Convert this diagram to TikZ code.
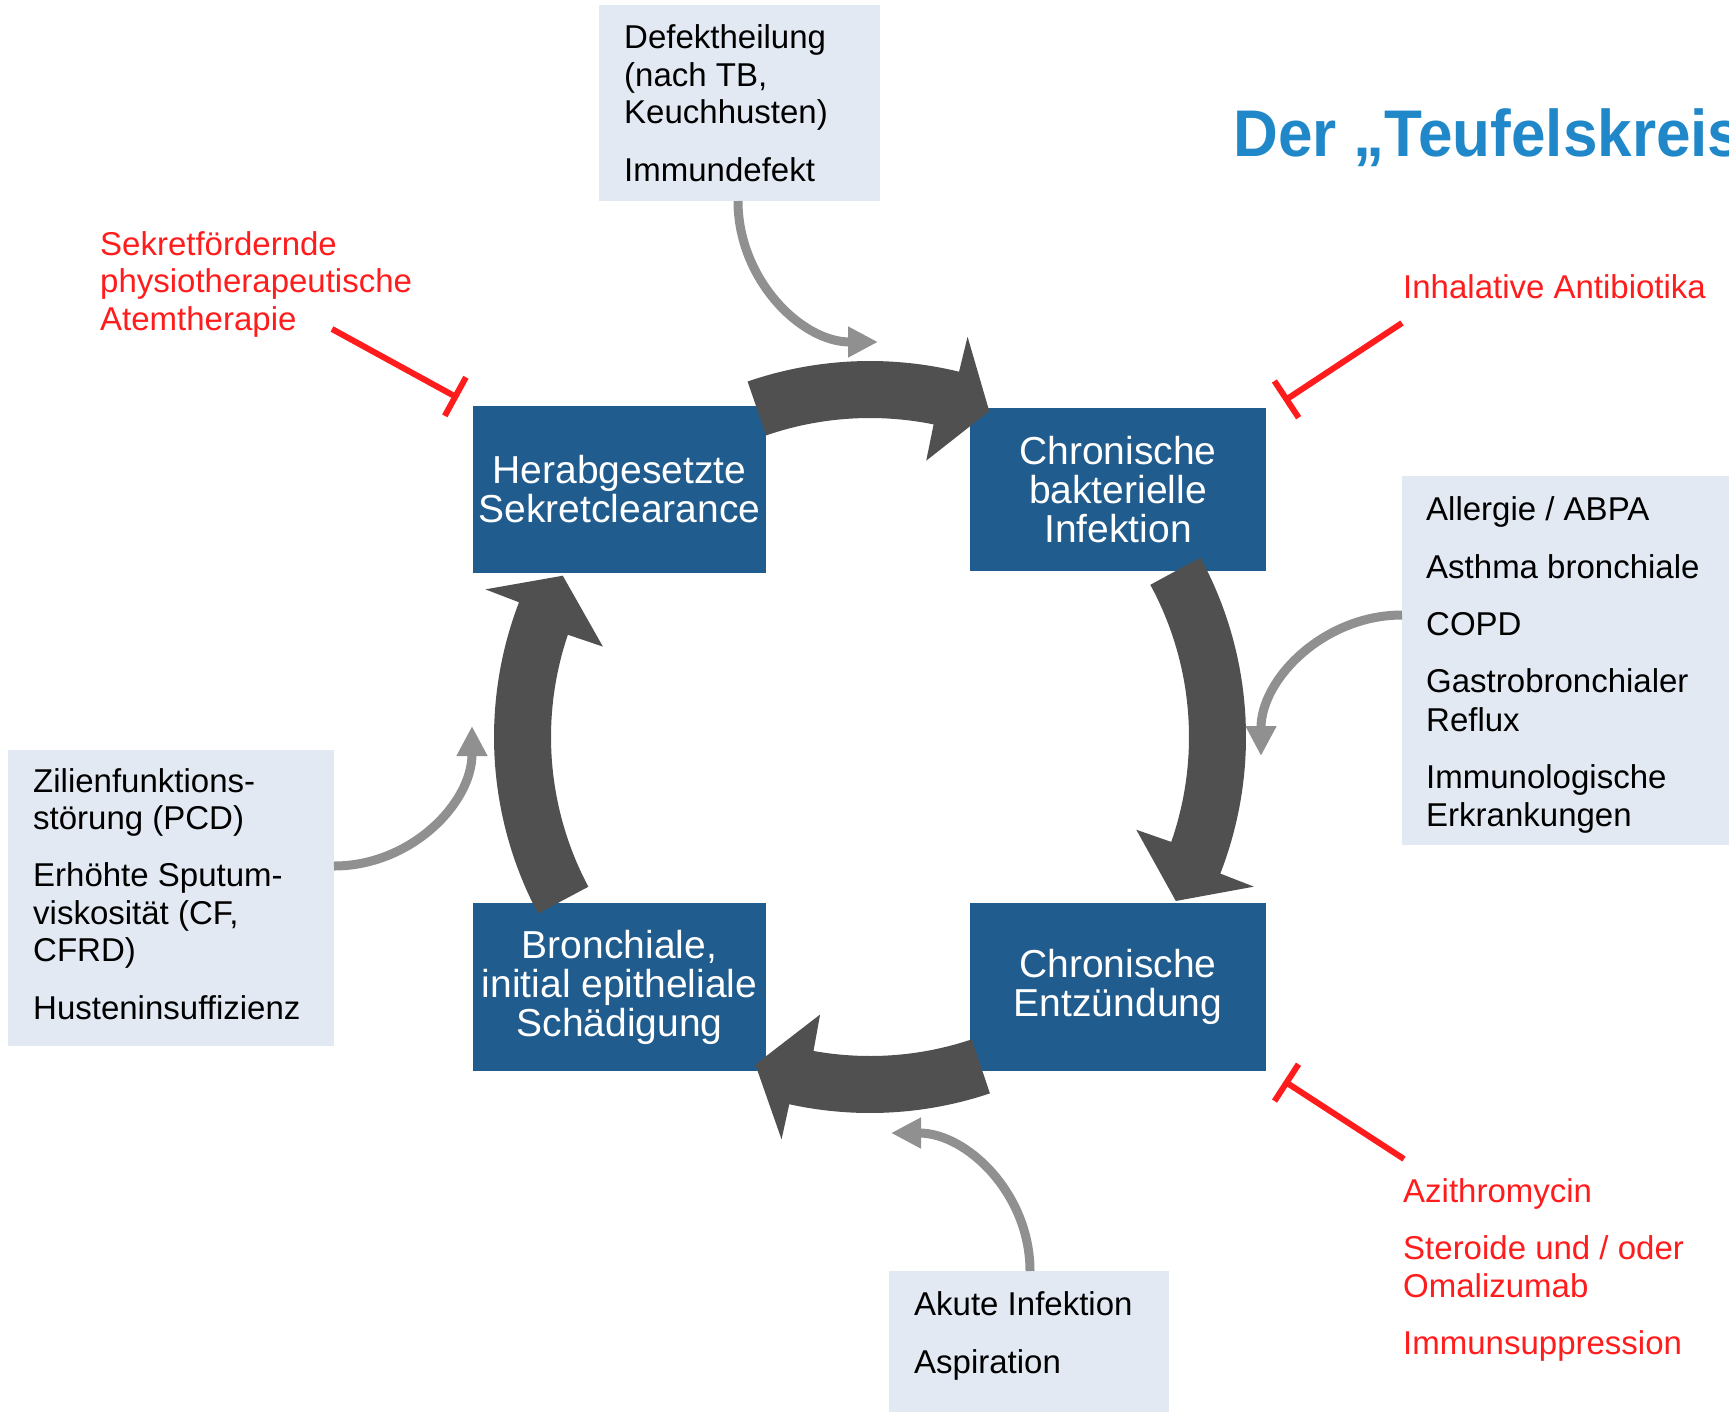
\documentclass[tikz,border=0pt]{standalone}
\usepackage{fontspec}
\setmainfont{Liberation Sans}
\usetikzlibrary{arrows.meta}
\definecolor{boxblue}{RGB}{33,92,142}
\definecolor{boxgrey}{RGB}{226,233,242}
\definecolor{arrdark}{RGB}{80,80,80}
\definecolor{arrgrey}{RGB}{144,144,144}
\definecolor{inhred}{RGB}{255,28,28}
\definecolor{titleblue}{RGB}{32,136,200}
\newcommand\cyclearrow[5]{%
  \fill[bigarr] plot[domain=#1:#2, samples=40] ({870+376*cos(\x)},{737+376*sin(\x)})
    -- ({870+412*cos(#2)},{737+412*sin(#2)})
    -- ({870+347*cos(#4)},{737+347*sin(#4)})
    -- ({870+282*cos(#3)},{737+282*sin(#3)})
    -- plot[domain=#3:#1, samples=40] ({870+319*cos(\x)},{737+319*sin(\x)}) -- cycle;}
\begin{document}
\begin{tikzpicture}[x=1pt,y=-1pt,
  bluebox/.style={fill=boxblue, text=white, inner sep=0pt, align=center,
    font=\fontsize{39}{39}\selectfont},
  greybox/.style={fill=boxgrey, inner sep=0pt, anchor=north west},
  txt/.style={anchor=base west, inner sep=0pt, font=\fontsize{33}{37.5}\selectfont, text=black},
  redtxt/.style={txt, text=inhred},
  feed/.style={draw=arrgrey, line width=9pt, -{Triangle[length=30pt,width=29pt]}},
  inhib/.style={draw=inhred, line width=6pt, -{Bar[width=44pt]}},
  bigarr/.style={fill=arrdark}
]
\useasboundingbox (0,0) rectangle (1729,1411);
\clip (0,0) rectangle (1729,1411);

% title
\node[anchor=base west, inner sep=0pt, text=titleblue, font=\fontsize{66}{66}\selectfont\bfseries] (title) at (1233,156) {\scalebox{0.94}[1]{Der „Teufelskreis}};

% grey boxes
\node[greybox, minimum width=281pt, minimum height=196pt] (gtop) at (599,5) {};
\node[greybox, minimum width=330pt, minimum height=369pt] (gright) at (1402,476) {};
\node[greybox, minimum width=326pt, minimum height=296pt] (gleft) at (8,750) {};
\node[greybox, minimum width=280pt, minimum height=145pt] (gbot) at (889,1271) {};

% grey box texts
\node[txt] (t1) at (624,48) {Defektheilung};
\node[txt] (t2) at (624,86) {(nach TB,};
\node[txt] (t3) at (624,123) {Keuchhusten)};
\node[txt] (t4) at (624,181) {Immundefekt};

\node[txt] (r1) at (1426,520) {Allergie / ABPA};
\node[txt] (r2) at (1426,578) {Asthma bronchiale};
\node[txt] (r3) at (1426,635) {COPD};
\node[txt] (r4) at (1426,692) {Gastrobronchialer};
\node[txt] (r5) at (1426,731) {Reflux};
\node[txt] (r6) at (1426,788) {Immunologische};
\node[txt] (r7) at (1426,826) {Erkrankungen};

\node[txt] (l1) at (33,792) {Zilienfunktions-};
\node[txt] (l2) at (33,829) {störung (PCD)};
\node[txt] (l3) at (33,886) {Erhöhte Sputum-};
\node[txt] (l4) at (33,924) {viskosität (CF,};
\node[txt] (l5) at (33,961) {CFRD)};
\node[txt] (l6) at (33,1019) {Husteninsuffizienz};

\node[txt] (b1) at (914,1315) {Akute Infektion};
\node[txt] (b2) at (914,1373) {Aspiration};

% red texts
\node[redtxt] (s1) at (100,255) {Sekretfördernde};
\node[redtxt] (s2) at (100,292) {physiotherapeutische};
\node[redtxt] (s3) at (100,330) {Atemtherapie};
\node[redtxt] (ia) at (1403,298) {Inhalative Antibiotika};
\node[redtxt] (az) at (1403,1202) {Azithromycin};
\node[redtxt] (st1) at (1403,1259) {Steroide und / oder};
\node[redtxt] (st2) at (1403,1297) {Omalizumab};
\node[redtxt] (im) at (1403,1354) {Immunsuppression};

% blue boxes
\node[bluebox, minimum width=293pt, minimum height=167pt] (herab) at (619.5,489.5) {Herabgesetzte\\Sekretclearance};
\node[bluebox, minimum width=296pt, minimum height=163pt] (bakt) at (1118,489.5) {Chronische\\bakterielle\\Infektion};
\node[bluebox, minimum width=293pt, minimum height=168pt] (bronch) at (619.5,987) {Bronchiale,\\initial epitheliale\\Schädigung};
\node[bluebox, minimum width=296pt, minimum height=168pt] (entz) at (1118,987) {Chronische\\Entzündung};

% big cycle arrows (tail, neck outer, neck inner, tip)
\cyclearrow{-109}{-76.3}{-78.5}{-69.9}{}
\cyclearrow{-28.5}{21.3}{19.2}{28.2}{}
\cyclearrow{71.4}{102.4}{100.2}{109.3}{}
\cyclearrow{152}{201}{198.7}{207.7}{}

% feeding grey arrows
\coordinate (ft0) at (738,201);  \coordinate (ft1) at (878,342);
\coordinate (fr0) at (1402,615); \coordinate (fr1) at (1261,756);
\coordinate (fl0) at (334,866);  \coordinate (fl1) at (472,726);
\coordinate (fb0) at (1030,1271); \coordinate (fb1) at (891,1133);
\draw[feed] (ft0) .. controls (738,279) and (801,342) .. (ft1);
\draw[feed] (fr0) .. controls (1324,615) and (1261,679) .. (fr1);
\draw[feed] (fl0) .. controls (411,866) and (472,803) .. (fl1);
\draw[feed] (fb0) .. controls (1030,1194) and (967,1133) .. (fb1);

% inhibition lines
\coordinate (i1a) at (332,329);  \coordinate (i1b) at (458,398);
\coordinate (i2a) at (1402,323); \coordinate (i2b) at (1284,401);
\coordinate (i3a) at (1404,1159); \coordinate (i3b) at (1284,1081);
\draw[inhib] (i1a) -- (i1b);
\draw[inhib] (i2a) -- (i2b);
\draw[inhib] (i3a) -- (i3b);
\end{tikzpicture}
\end{document}
